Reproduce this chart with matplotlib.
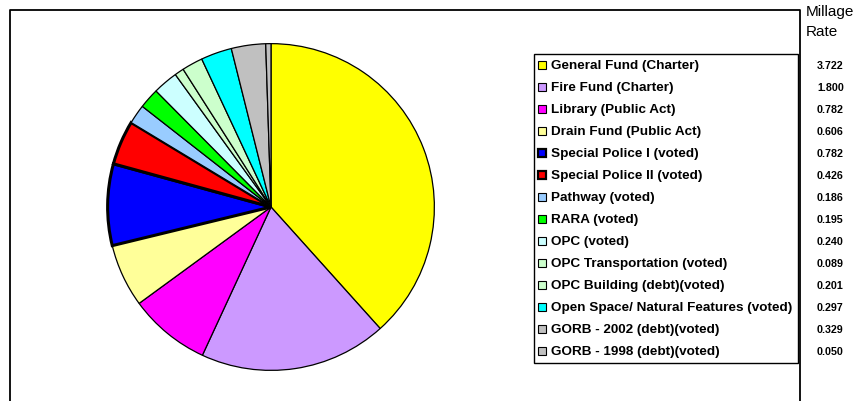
import matplotlib
matplotlib.use("Agg")
import matplotlib.pyplot as plt
from matplotlib.patches import Rectangle
from matplotlib.lines import Line2D

labels = ["General Fund (Charter)", "Fire Fund (Charter)", "Library (Public Act)",
          "Drain Fund (Public Act)", "Special Police I (voted)", "Special Police II (voted)",
          "Pathway (voted)", "RARA (voted)", "OPC (voted)", "OPC Transportation (voted)",
          "OPC Building (debt)(voted)", "Open Space/ Natural Features (voted)",
          "GORB - 2002 (debt)(voted)", "GORB - 1998 (debt)(voted)"]
values = [3.722, 1.800, 0.782, 0.606, 0.782, 0.426, 0.186, 0.195, 0.240, 0.089,
          0.201, 0.297, 0.329, 0.050]
value_labels = ["3.722", "1.800", "0.782", "0.606", "0.782", "0.426", "0.186", "0.195",
                "0.240", "0.089", "0.201", "0.297", "0.329", "0.050"]
colors = ["#FFFF00", "#CC99FF", "#FF00FF", "#FFFF99", "#0000FF", "#FF0000", "#99CCFF",
          "#00FF00", "#CCFFFF", "#CCFFCC", "#CCFFCC", "#00FFFF", "#C0C0C0", "#C0C0C0"]

W, H = 859, 402
fig = plt.figure(figsize=(W / 100, H / 100), dpi=100)
plt.rcParams['font.family'] = ['Liberation Sans', 'DejaVu Sans']

def fx(px):
    return px / W

def fy(py):
    return 1 - py / H

# outer frame (left, top, right)
fig.add_artist(Line2D([fx(10), fx(10), fx(800), fx(800)],
                      [fy(410), fy(11), fy(11), fy(410)],
                      transform=fig.transFigure, color="black", lw=1.3))

# pie
cx, cy, r = 271, 208, 165
ax = fig.add_axes([fx(cx - r), fy(cy + r), (2 * r) / W, (2 * r) / H])
wedges, _ = ax.pie(values, colors=colors, startangle=90, counterclock=False,
                   wedgeprops=dict(edgecolor="black", linewidth=0.9))
for i in (4, 5):
    wedges[i].set_linewidth(2.2)
ax.set_xlim(-1.01, 1.01)
ax.set_ylim(-1.01, 1.01)
ax.set_aspect("equal")
ax.axis("off")

# legend box
lx0, ly0, lx1, ly1 = 534, 55, 798, 364
fig.add_artist(Rectangle((fx(lx0), fy(ly1)), fx(lx1) - fx(lx0), fy(ly0) - fy(ly1),
                         transform=fig.transFigure, fill=False, edgecolor="black", lw=1.0))
row0, step = 66, 22.0
for i, (lab, col, vl) in enumerate(zip(labels, colors, value_labels)):
    y = row0 + i * step
    ew = 1.6 if i in (4, 5) else 0.8
    fig.add_artist(Rectangle((fx(538), fy(y + 4)), 8 / W, 8 / H, transform=fig.transFigure,
                             facecolor=col, edgecolor="black", lw=ew))
    fig.text(fx(551), fy(y), lab, fontsize=9.7, fontweight="bold", va="center", ha="left")
    fig.text(fx(817), fy(y), vl, fontsize=7.7, fontweight="bold", va="center", ha="left")

fig.text(fx(806), fy(12), "Millage", fontsize=11, va="center", ha="left")
fig.text(fx(806), fy(32), "Rate", fontsize=11, va="center", ha="left")

fig.savefig("out.png", dpi=100)
